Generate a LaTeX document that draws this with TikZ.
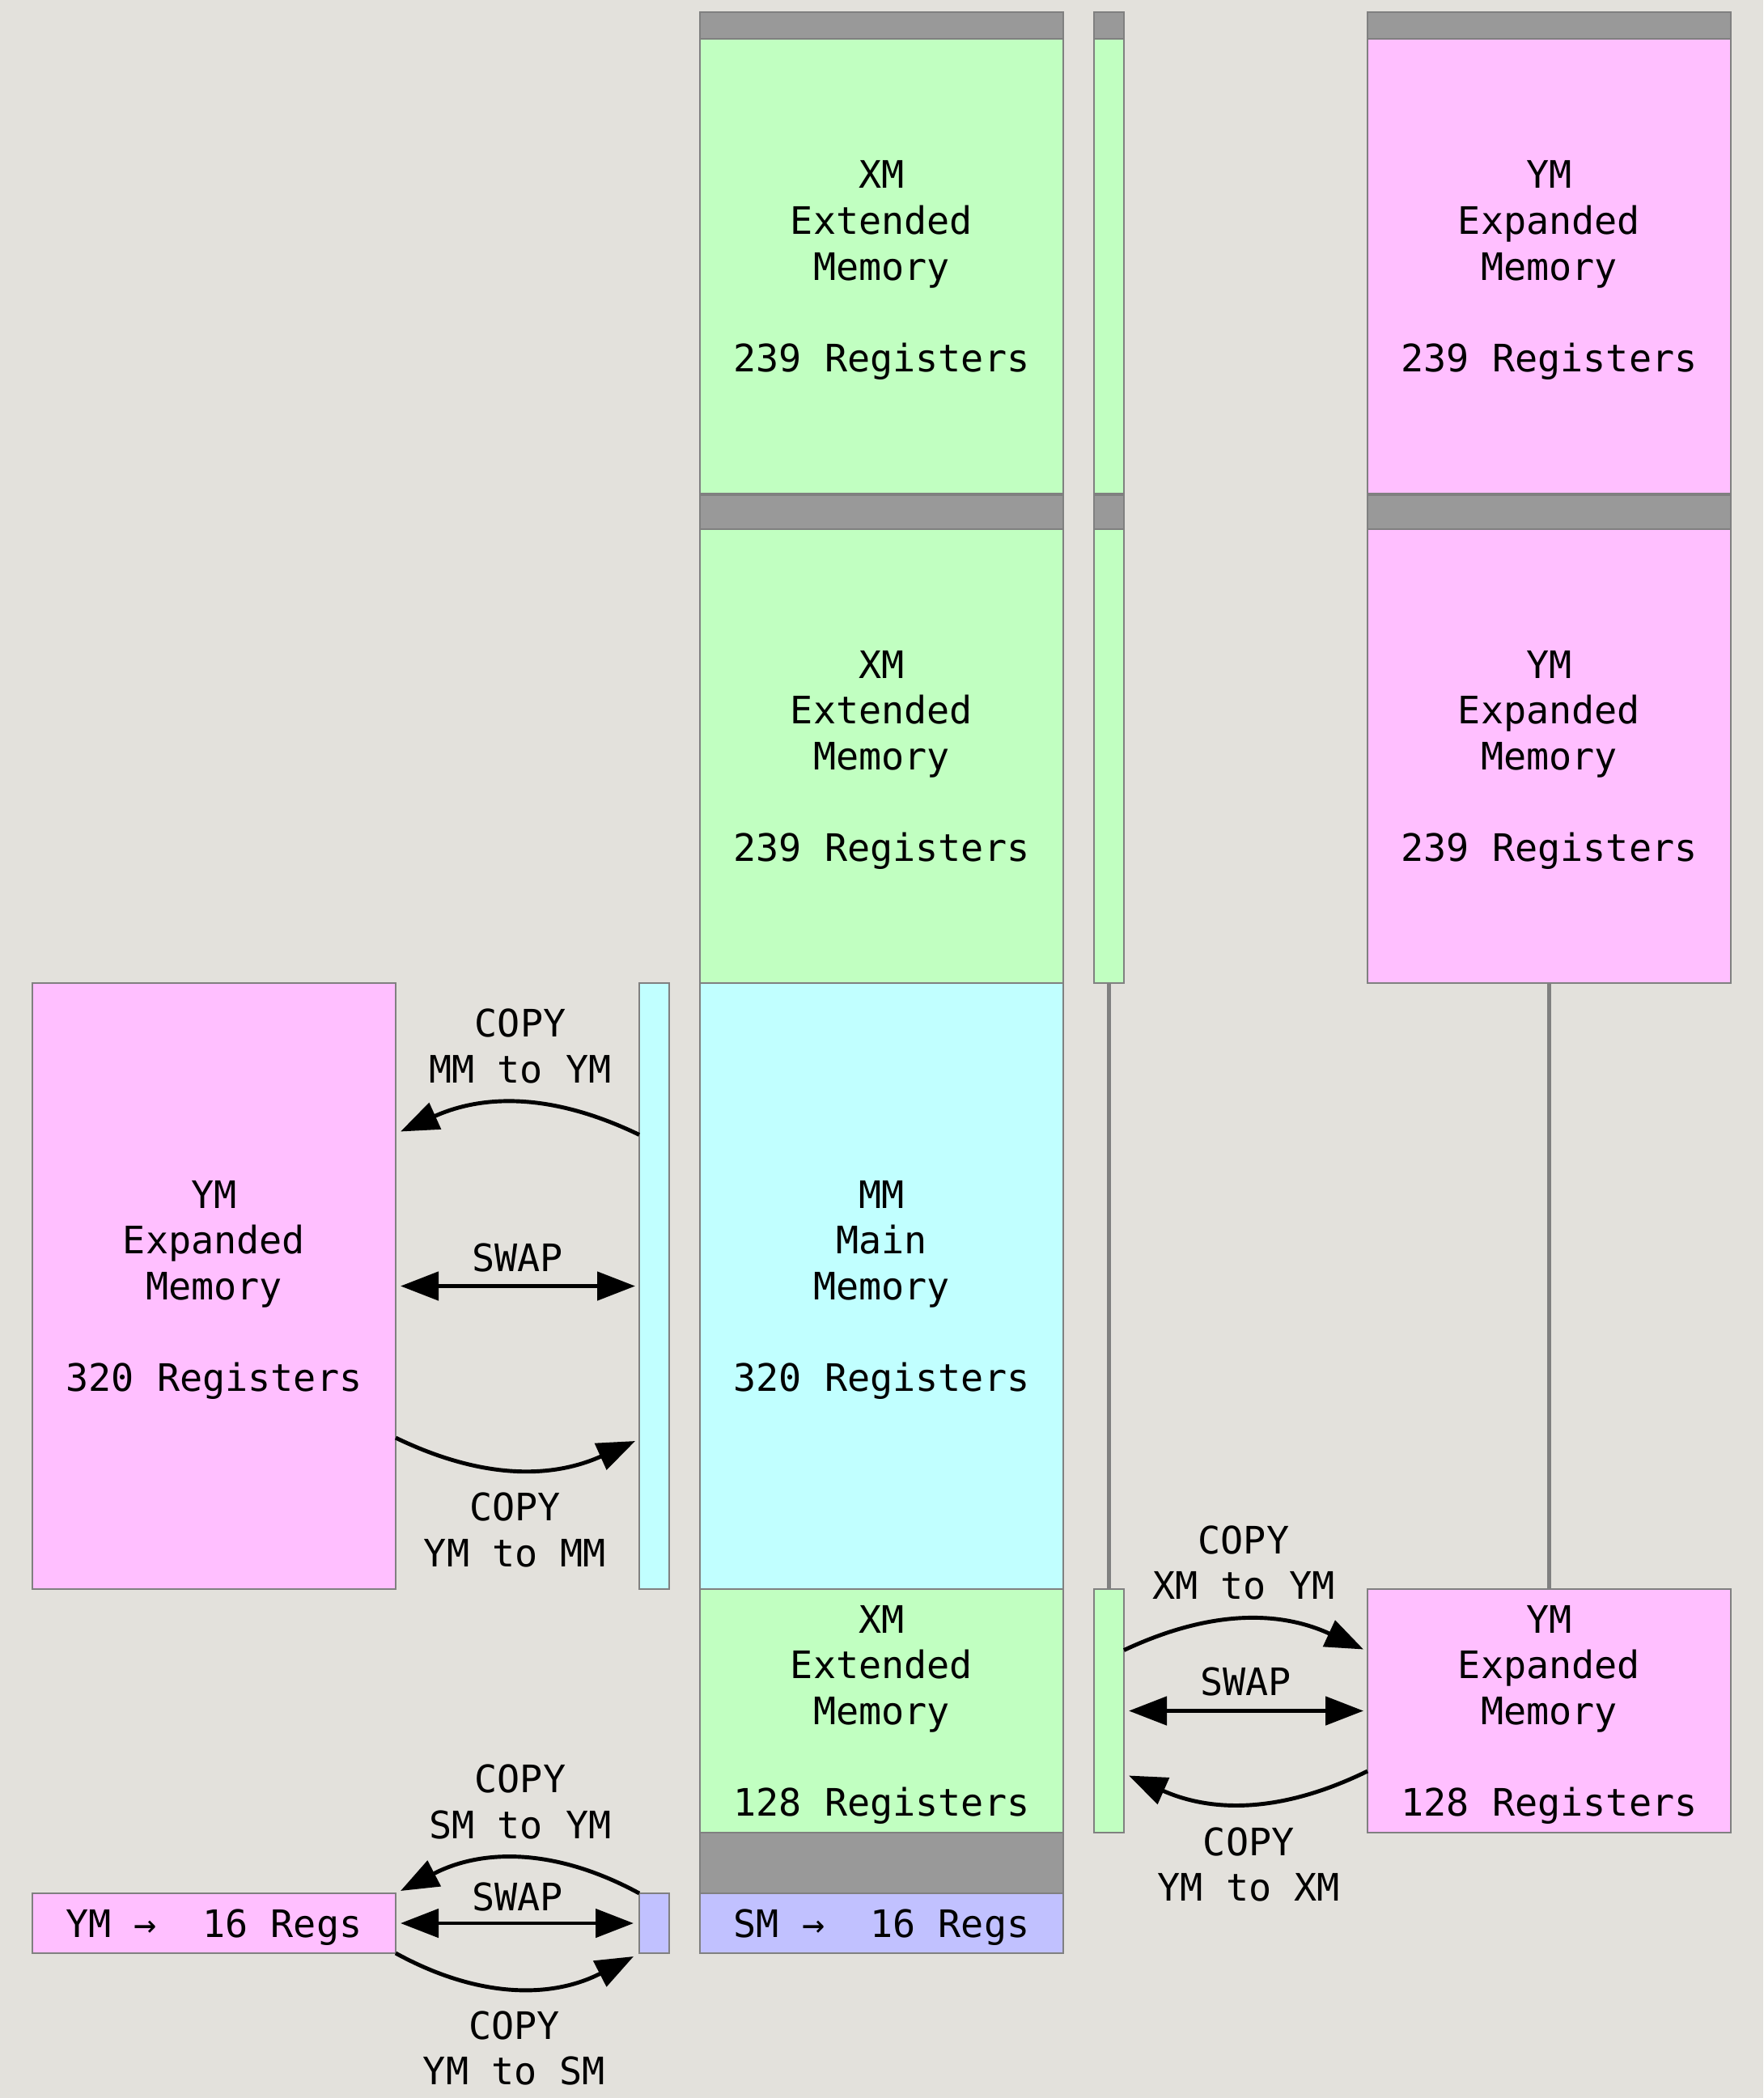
\documentclass[tikz,border=0pt]{standalone}
\usepackage{fontspec}
\newfontfamily\memfont{DejaVu Sans Mono}
\usetikzlibrary{arrows.meta,positioning}
\definecolor{bggray}{HTML}{E3E1DC}
\definecolor{xmgreen}{HTML}{C1FFC1}
\definecolor{ympink}{HTML}{FFBFFF}
\definecolor{mmcyan}{HTML}{C1FFFF}
\definecolor{smblue}{HTML}{C1C1FF}
\definecolor{bargray}{HTML}{999999}
\definecolor{edgegray}{HTML}{808080}
\begin{document}
\begin{tikzpicture}[every node/.style={outer sep=0pt},
    mem/.style={draw=edgegray,line width=0.75pt,inner sep=0pt,align=center,text depth=0pt,
      minimum width=4.49cm,font=\memfont\fontsize{13.3pt}{16.1pt}\selectfont},
    strip/.style={mem,minimum width=0.37cm},
    bar/.style={fill=bargray},
    link/.style={draw=edgegray,line width=1.2pt},
    copyarrow/.style={-{Triangle[length=0.47cm,width=0.35cm]},line width=1.4pt},
    swaparrow/.style={{Triangle[length=0.47cm,width=0.35cm]}-{Triangle[length=0.47cm,width=0.35cm]},
      line width=1.4pt},
    lbl/.style={inner sep=0pt,align=center,font=\memfont\fontsize{13.3pt}{16.1pt}\selectfont}]

    \fill[bggray] (0,0) rectangle (21.79,-25.93);
    \useasboundingbox (0,0) rectangle (21.79,-25.93);

    % main column
    \node[mem,bar,anchor=north west,minimum height=0.33cm] (barXA) at (8.65,-0.15) {};
    \node[mem,fill=xmgreen,minimum height=5.62cm,below=0pt of barXA] (xmA)
      {XM\\Extended\\Memory\\[16.1pt]239 Registers};
    \node[mem,bar,minimum height=0.42cm,below=0.02cm of xmA] (barXB) {};
    \node[mem,fill=xmgreen,minimum height=5.61cm,below=0pt of barXB] (xmB)
      {XM\\Extended\\Memory\\[16.1pt]239 Registers};
    \node[mem,fill=mmcyan,minimum height=7.49cm,below=0pt of xmB] (mm)
      {MM\\Main\\Memory\\[16.1pt]320 Registers};
    \node[mem,fill=xmgreen,minimum height=3.01cm,below=0pt of mm] (xmC)
      {XM\\Extended\\Memory\\[16.1pt]128 Registers};
    \node[mem,bar,minimum height=0.75cm,below=0pt of xmC] (barS) {};
    \node[mem,fill=smblue,minimum height=0.74cm,below=0pt of barS] (sm) {SM →\ \ 16 Regs};

    % narrow column
    \node[strip,bar,anchor=north west,minimum height=0.33cm] (barNA) at (13.52,-0.15) {};
    \node[strip,fill=xmgreen,minimum height=5.62cm,below=0pt of barNA] (nA) {};
    \node[strip,bar,minimum height=0.42cm,below=0.02cm of nA] (barNB) {};
    \node[strip,fill=xmgreen,minimum height=5.61cm,below=0pt of barNB] (nB) {};
    \node[strip,fill=xmgreen,minimum height=3.01cm,anchor=north west] (nC) at (13.52,-19.64) {};
    \draw[link] (nB.south) -- (nC.north);

    % right column
    \node[mem,bar,anchor=north west,minimum height=0.33cm] (barYA) at (16.90,-0.15) {};
    \node[mem,fill=ympink,minimum height=5.62cm,below=0pt of barYA] (ymA)
      {YM\\Expanded\\Memory\\[16.1pt]239 Registers};
    \node[mem,bar,minimum height=0.42cm,below=0.02cm of ymA] (barYB) {};
    \node[mem,fill=ympink,minimum height=5.61cm,below=0pt of barYB] (ymB)
      {YM\\Expanded\\Memory\\[16.1pt]239 Registers};
    \node[mem,fill=ympink,minimum height=3.01cm,anchor=north west] (ymC) at (16.90,-19.64)
      {YM\\Expanded\\Memory\\[16.1pt]128 Registers};
    \draw[link] (ymB.south) -- (ymC.north);

    % left column
    \node[mem,fill=ympink,minimum height=7.49cm,anchor=north west] (ymL) at (0.40,-12.15)
      {YM\\Expanded\\Memory\\[16.1pt]320 Registers};
    \node[strip,fill=mmcyan,minimum height=7.49cm,anchor=north west] (mmS) at (7.90,-12.15) {};
    \node[mem,fill=ympink,minimum height=0.74cm,anchor=north west] (ym16) at (0.40,-23.40)
      {YM →\ \ 16 Regs};
    \node[strip,fill=smblue,minimum height=0.74cm,anchor=north west] (smS) at (7.90,-23.40) {};

    % MM <-> YM
    \draw[copyarrow] ([yshift=1.87cm]mmS.west) to[bend right=25]
      node[lbl,midway,above=0.25cm]{COPY\\MM to YM} ([xshift=0.06cm,yshift=1.91cm]ymL.east);
    \draw[swaparrow,shorten <=0.06cm,shorten >=0.05cm] (ymL.east) -- (mmS.west)
      node[lbl,midway,above=0.17cm]{SWAP};
    \draw[copyarrow] ([yshift=-1.875cm]ymL.east) to[bend right=25]
      node[lbl,midway,below=0.29cm]{COPY\\YM to MM} ([xshift=-0.05cm,yshift=-1.915cm]mmS.west);

    % XM <-> YM
    \draw[copyarrow] ([yshift=0.75cm]nC.east) to[bend left=25]
      node[lbl,midway,above=0.25cm]{COPY\\XM to YM} ([xshift=-0.05cm,yshift=0.76cm]ymC.west);
    \draw[swaparrow,shorten <=0.06cm,shorten >=0.05cm] (nC.east) -- (ymC.west)
      node[lbl,midway,above=0.18cm]{SWAP};
    \draw[copyarrow] ([yshift=-0.745cm]ymC.west) to[bend left=25]
      node[lbl,midway,below=0.30cm]{COPY\\YM to XM} ([xshift=0.06cm,yshift=-0.80cm]nC.east);

    % SM <-> YM
    \draw[copyarrow] (smS.north west) to[bend right=28]
      node[lbl,midway,above=0.25cm]{COPY\\SM to YM} ([xshift=0.06cm,yshift=0.03cm]ym16.north east);
    \draw[swaparrow,shorten <=0.06cm,shorten >=0.07cm] (ym16.east) -- (smS.west)
      node[lbl,midway,above=0.15cm]{SWAP};
    \draw[copyarrow] (ym16.south east) to[bend right=28]
      node[lbl,midway,below=0.29cm]{COPY\\YM to SM} ([xshift=-0.07cm,yshift=-0.04cm]smS.south west);
\end{tikzpicture}
\end{document}
